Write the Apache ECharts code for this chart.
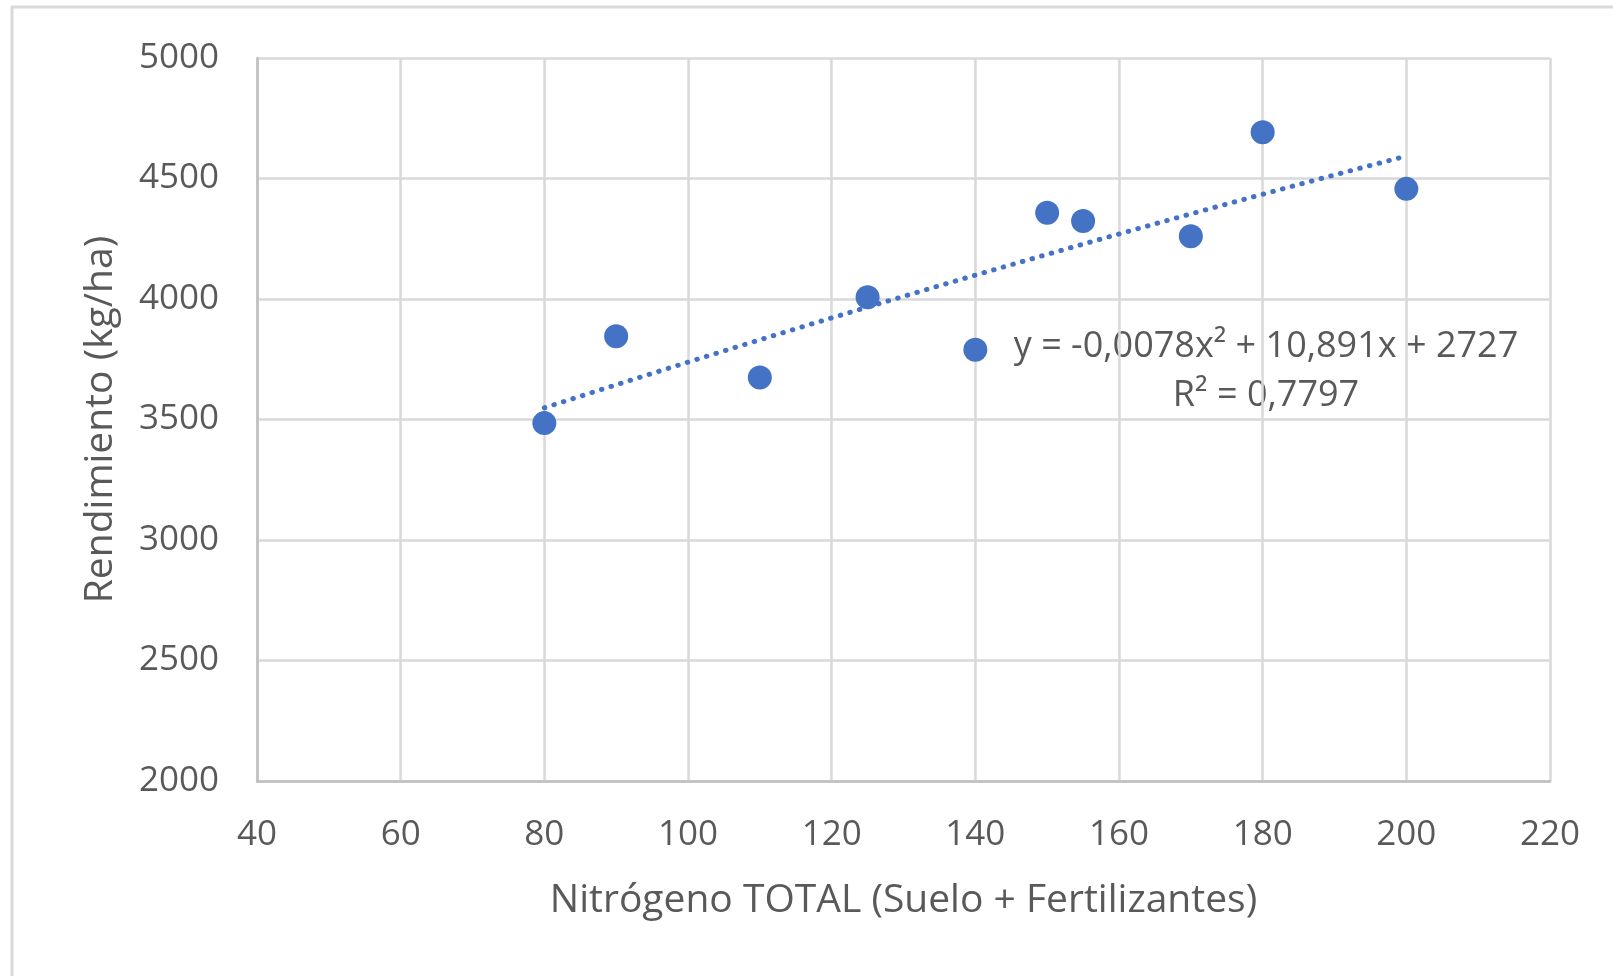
<!DOCTYPE html>
<html>
<head>
<meta charset="utf-8">
<script src="https://cdn.jsdelivr.net/npm/echarts@6/dist/echarts.min.js"></script>
<style>
html,body{margin:0;padding:0;background:#fff;}
#c{width:1613px;height:976px;}
</style>
</head>
<body>
<div id="c"></div>
<script>
// Data
const nitrogen = [80, 90, 110, 125, 140, 150, 155, 170, 180, 200];
const yieldKg  = [3485, 3845, 3674, 4007, 3789, 4358, 4324, 4260, 4692, 4457];
// Trendline (polynomial, order 2) coefficients as shown: a*x^2 + b*x + c
const trendCoef = [-0.0078, 10.891, 2727];
const trendRange = [80, 200];
const eqLabel = 'y = -0,0078x² + 10,891x + 2727';
const r2Label = 'R² = 0,7797';
const xTitle = 'Nitrógeno TOTAL (Suelo + Fertilizantes)';
const yTitle = 'Rendimiento (kg/ha)';

const trendData = [];
for (let x = trendRange[0]; x <= trendRange[1]; x += 1) {
  trendData.push([x, trendCoef[0]*x*x + trendCoef[1]*x + trendCoef[2]]);
}

const FONT = '"Open Sans", "Noto Sans", sans-serif';
const TXT = '#595959';
const chart = echarts.init(document.getElementById('c'));
chart.setOption({
  animation: false,
  backgroundColor: '#fff',
  grid: {left: 257, top: 58, right: 63, bottom: 195},
  xAxis: {
    type: 'value', min: 40, max: 220, interval: 20,
    axisLine: {show: true, lineStyle: {color: '#bfbfbf', width: 2.5}},
    axisTick: {show: false},
    splitLine: {show: true, lineStyle: {color: '#d9d9d9', width: 2.5}},
    axisLabel: {color: TXT, fontSize: 35, fontFamily: FONT, margin: 37},
    name: xTitle, nameLocation: 'middle', nameGap: 100,
    nameTextStyle: {color: TXT, fontSize: 39, fontFamily: FONT}
  },
  yAxis: {
    type: 'value', min: 2000, max: 5000, interval: 500,
    axisLine: {show: true, lineStyle: {color: '#bfbfbf', width: 2.5}},
    axisTick: {show: false},
    splitLine: {show: true, lineStyle: {color: '#d9d9d9', width: 2.5}},
    axisLabel: {color: TXT, fontSize: 35, fontFamily: FONT, margin: 38,
                formatter: v => String(v)},
    name: yTitle, nameLocation: 'middle', nameGap: 137, nameRotate: 90,
    nameTextStyle: {color: TXT, fontSize: 39, fontFamily: FONT}
  },
  series: [
    {
      type: 'line', data: trendData, showSymbol: false, symbol: 'none',
      lineStyle: {color: '#4472C4', width: 5, type: [0.5, 9.5], cap: 'round'},
      z: 2
    },
    {
      type: 'scatter', data: nitrogen.map((x, i) => [x, yieldKg[i]]),
      symbolSize: 24, itemStyle: {color: '#4472C4', opacity: 1},
      z: 3
    }
  ],
  graphic: [
    {type: 'rect', shape: {x: 12, y: 7, width: 1800, height: 1200},
     style: {fill: 'none', stroke: '#d9d9d9', lineWidth: 3}, silent: true},
    {type: 'text', x: 1266, y: 347,
     style: {text: eqLabel, fill: TXT, font: '36px ' + FONT, textAlign: 'center', textVerticalAlign: 'middle'}},
    {type: 'text', x: 1266, y: 396,
     style: {text: r2Label, fill: TXT, font: '36px ' + FONT, textAlign: 'center', textVerticalAlign: 'middle'}}
  ]
});
</script>
</body>
</html>
